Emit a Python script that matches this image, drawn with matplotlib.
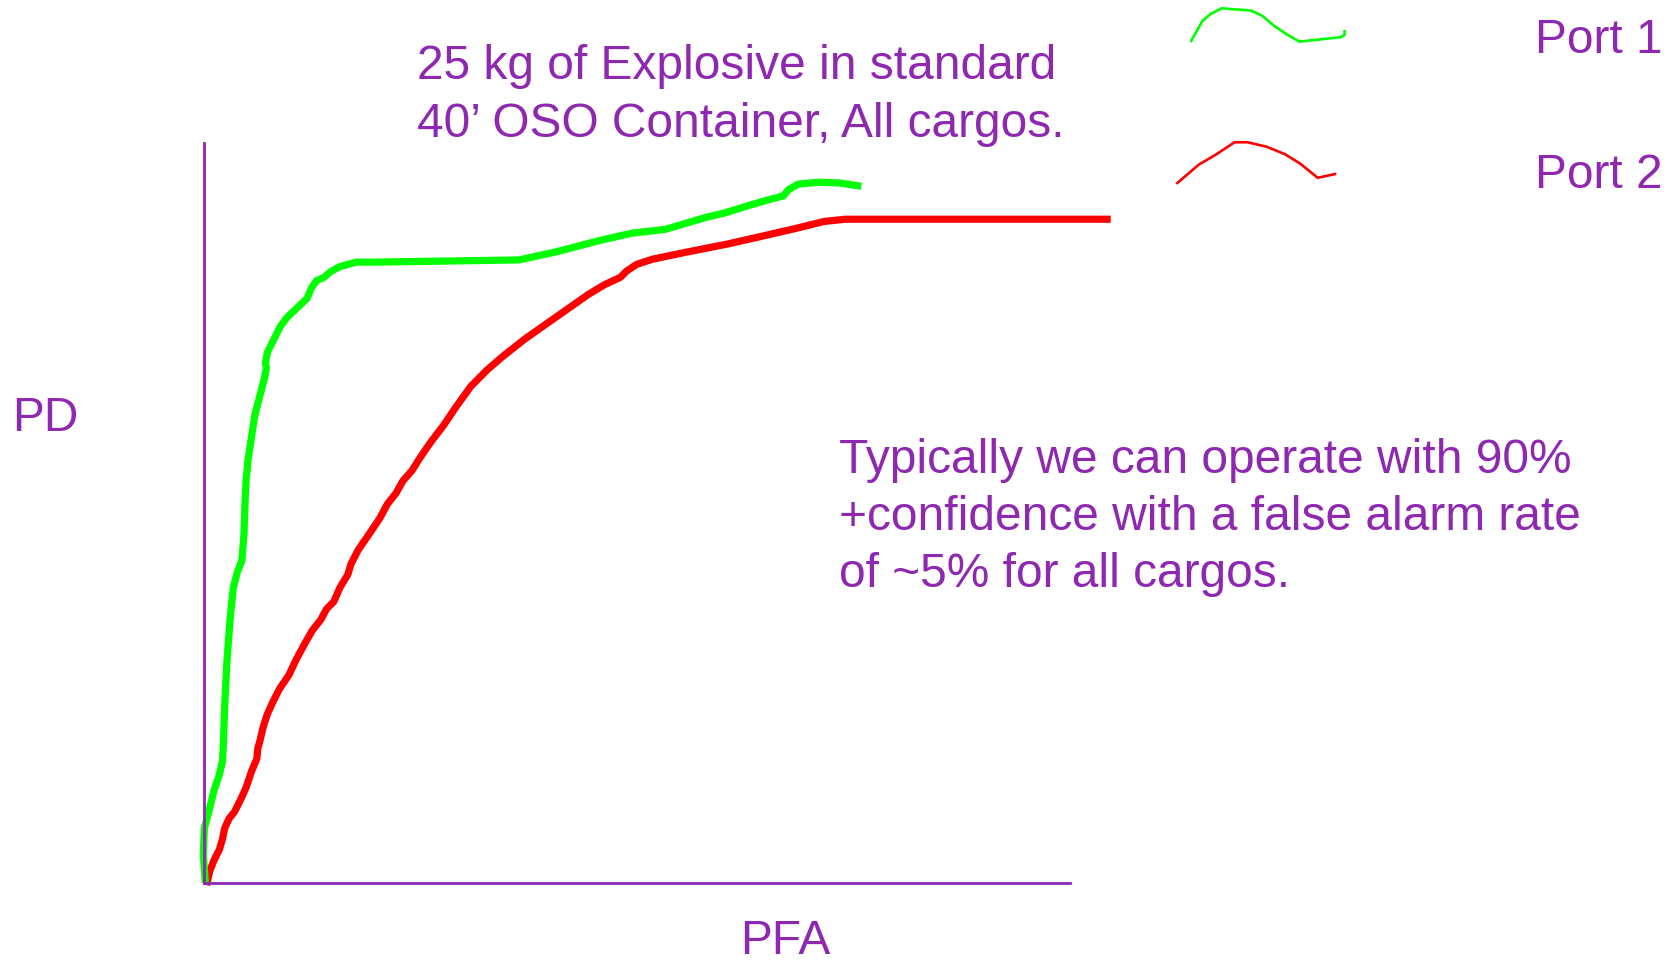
"""ROC style sketch: PD vs PFA for two ports."""
import matplotlib
matplotlib.use("Agg")
import matplotlib.pyplot as plt

W, H = 1677, 962
PURPLE = "#9127b3"
TEXT_PURPLE = "#8e28b0"

plt.rcParams['font.family'] = ['Liberation Sans', 'DejaVu Sans']

# Port 1 (green) curve, PFA / PD as fraction of the drawn axes
port1_pfa = [0.0016, -0.0008, 0.0004, 0.0054, 0.0115, 0.0177, 0.0214, 0.0227,
             0.0239, 0.0264, 0.0301, 0.0338, 0.0387, 0.0437, 0.0462, 0.0474,
             0.0486, 0.051, 0.0548, 0.0585, 0.0647, 0.0696, 0.072, 0.0709,
             0.0733, 0.0795, 0.0881, 0.0956, 0.1055, 0.119, 0.124, 0.130,
             0.1388, 0.146, 0.157, 0.176, 0.197, 0.3637, 0.407, 0.456, 0.4934,
             0.533, 0.555, 0.580, 0.601, 0.629, 0.654, 0.669, 0.675, 0.686,
             0.7097, 0.734, 0.759]
port1_pd = [0.0, 0.038, 0.074, 0.0957, 0.1246, 0.1463, 0.165, 0.197, 0.240,
            0.298, 0.356, 0.399, 0.421, 0.4355, 0.4716, 0.515, 0.544, 0.573,
            0.602, 0.631, 0.6596, 0.681, 0.696, 0.703, 0.7174, 0.732, 0.752,
            0.764, 0.775, 0.790, 0.804, 0.814, 0.8186, 0.826, 0.833, 0.839,
            0.839, 0.842, 0.853, 0.868, 0.878, 0.8834, 0.891, 0.8996, 0.9054,
            0.9155, 0.924, 0.9285, 0.937, 0.9444, 0.947, 0.946, 0.9415]

# Port 2 (red) curve
port2_pfa = [0.003, 0.0066, 0.0115, 0.0177, 0.0214, 0.0239, 0.0289, 0.035,
             0.0424, 0.0486, 0.0548, 0.061, 0.0622, 0.0647, 0.0684, 0.0733,
             0.0795, 0.087, 0.098, 0.1067, 0.1166, 0.1252, 0.135, 0.1413,
             0.150, 0.157, 0.166, 0.1697, 0.178, 0.1907, 0.203, 0.2117, 0.2216,
             0.230, 0.240, 0.250, 0.262, 0.277, 0.2896, 0.308, 0.3266, 0.345,
             0.370, 0.3946, 0.419, 0.444, 0.4625, 0.481, 0.488, 0.4996, 0.518,
             0.555, 0.6046, 0.648, 0.685, 0.716, 0.7405, 0.802, 1.047]
port2_pd = [-0.003, 0.016, 0.0306, 0.045, 0.0595, 0.074, 0.087, 0.0957, 0.113,
            0.129, 0.1506, 0.168, 0.1824, 0.1926, 0.211, 0.2287, 0.2446, 0.262,
            0.281, 0.3025, 0.324, 0.3415, 0.356, 0.370, 0.3805, 0.3993, 0.4166,
            0.431, 0.450, 0.4716, 0.493, 0.512, 0.5266, 0.544, 0.557, 0.5757,
            0.596, 0.619, 0.641, 0.671, 0.693, 0.7116, 0.7347, 0.755, 0.775,
            0.7955, 0.8085, 0.8186, 0.827, 0.836, 0.843, 0.852, 0.8635, 0.875,
            0.885, 0.894, 0.897, 0.897, 0.897]

# hand drawn legend keys (same units, outside the axes)
key1_pfa = [1.140, 1.153, 1.162, 1.175, 1.209, 1.222, 1.235, 1.250, 1.265,
            1.313, 1.317, 1.317]
key1_pd = [1.138, 1.165, 1.174, 1.182, 1.179, 1.172, 1.159, 1.147, 1.137,
           1.143, 1.146, 1.151]
key2_pfa = [1.124, 1.149, 1.168, 1.190, 1.205, 1.227, 1.248, 1.266, 1.286,
            1.306]
key2_pd = [0.946, 0.971, 0.984, 1.001, 1.001, 0.995, 0.985, 0.972, 0.953,
           0.958]

title_lines = ["25 kg of Explosive in standard", "40\u2019 OSO Container, All cargos."]
note_lines = ["Typically we can operate with 90%",
              "+confidence with a false alarm rate",
              "of ~5% for all cargos."]
port_labels = ["Port 1", "Port 2"]

fig = plt.figure(figsize=(W / 100, H / 100), dpi=100)
ax = fig.add_axes([204 / W, (H - 884) / H, 866 / W, 740 / H])
ax.set_xlim(0, 1)
ax.set_ylim(0, 1)
for side in ("top", "right"):
    ax.spines[side].set_visible(False)
for side in ("left", "bottom"):
    ax.spines[side].set_color(PURPLE)
    ax.spines[side].set_linewidth(2)
ax.set_xticks([])
ax.set_yticks([])

ax.plot(port2_pfa, port2_pd, color="#ff0000", lw=5.2, clip_on=False,
        solid_joinstyle="round", solid_capstyle="butt")
ax.plot(port1_pfa, port1_pd, color="#00ff00", lw=5.2, clip_on=False,
        solid_joinstyle="round", solid_capstyle="butt")
ax.plot(key1_pfa, key1_pd, color="#00ff00", lw=1.9, clip_on=False)
ax.plot(key2_pfa, key2_pd, color="#ff0000", lw=1.9, clip_on=False)


def put(x, y_top, s):
    # x, y given in pixels from the top left, y is the baseline
    fig.text(x / W, (H - y_top) / H, s, fontsize=34.5, color=TEXT_PURPLE,
             ha="left", va="baseline")


for i, line in enumerate(title_lines):
    put(417, 79 + 58 * i, line)
for i, line in enumerate(note_lines):
    put(839, 473 + 57 * i, line)
for i, lab in enumerate(port_labels):
    put(1535, 53 + 135 * i, lab)
put(12, 431, "PD")
put(740, 954, "PFA")

fig.savefig("out.png", dpi=100)
